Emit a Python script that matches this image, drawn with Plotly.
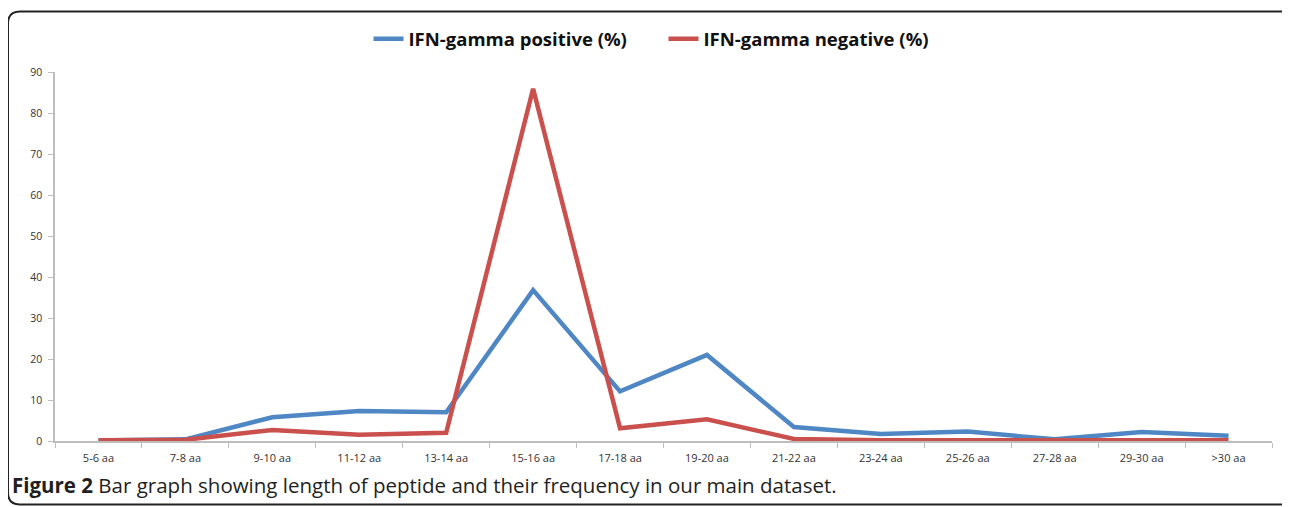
import plotly.graph_objects as go

categories = ["5-6 aa", "7-8 aa", "9-10 aa", "11-12 aa", "13-14 aa", "15-16 aa", "17-18 aa",
              "19-20 aa", "21-22 aa", "23-24 aa", "25-26 aa", "27-28 aa", "29-30 aa", ">30 aa"]
positive = [0.1, 0.4, 5.8, 7.3, 7.0, 36.8, 12.1, 21.0, 3.4, 1.7, 2.3, 0.4, 2.2, 1.3]
negative = [0.2, 0.3, 2.7, 1.5, 2.0, 85.9, 3.1, 5.3, 0.5, 0.2, 0.2, 0.2, 0.3, 0.2]
y_ticks = [0, 10, 20, 30, 40, 50, 60, 70, 80, 90]

OFF = 8  # page body margin
W, H = 1290 - OFF, 507 - OFF
# plot area in page pixels: x 55..1272, y 69..441
L, R, T, B = 55 - OFF, 1290 - 1272, 69 - OFF, 507 - 441
pw, ph = W - L - R, H - T - B

def px(x):
    return (x - OFF - L) / pw

def py(y):
    return (H - B - (y - OFF)) / ph

fig = go.Figure()
fig.add_trace(go.Scatter(x=categories, y=positive, mode="lines", name="IFN-gamma positive (%)",
                         line=dict(color="#4f87c4", width=4.5)))
fig.add_trace(go.Scatter(x=categories, y=negative, mode="lines", name="IFN-gamma negative (%)",
                         line=dict(color="#c9504d", width=4.5)))

# rounded frame
x0, x1 = px(8), px(1295)
y0, y1 = py(505), py(8)
rx, ry = 12 / pw, 12 / ph
path = (f"M {x0+rx} {y1} L {x1} {y1} L {x1} {y0} L {x0+rx} {y0} "
        f"Q {x0} {y0} {x0} {y0+ry} L {x0} {y1-ry} Q {x0} {y1} {x0+rx} {y1} Z")
fig.add_shape(type="path", path=path, xref="paper", yref="paper",
              line=dict(color="#222222", width=2), layer="below")

fig.add_annotation(x=px(10), y=py(485), xref="paper", yref="paper", xanchor="left", yanchor="middle",
                   showarrow=False,
                   text="<b>Figure 2</b> Bar graph showing length of peptide and their frequency in our main dataset.",
                   font=dict(family="Open Sans", size=20.5, color="#231f20"))

fig.update_layout(
    width=W, height=H,
    margin=dict(l=L, r=R, t=T, b=B),
    paper_bgcolor="white", plot_bgcolor="white",
    font=dict(family="Open Sans", color="#333333"),
    showlegend=True,
    legend=dict(orientation="h", x=0.5, xanchor="center", y=py(36), yanchor="middle",
                font=dict(family="Open Sans", size=18.5, color="#111111", weight="bold"),
                traceorder="normal", bgcolor="rgba(0,0,0,0)", entrywidth=250),
)
fig.update_xaxes(range=[-0.5, 13.5], showline=True, linecolor="#bdbdbd", linewidth=1.5,
                 ticks="outside", tickson="boundaries", ticklen=5, tickcolor="#bdbdbd",
                 ticklabelstandoff=6,
                 showgrid=False, tickfont=dict(size=11, color="#333333", family="Open Sans"))
fig.update_yaxes(range=[0, 90], tickvals=y_ticks, showline=True, linecolor="#bdbdbd", linewidth=1.5,
                 ticks="outside", ticklen=5, tickcolor="#bdbdbd", showgrid=False, zeroline=False,
                 ticklabelstandoff=4,
                 tickfont=dict(size=10.5, color="#333333", family="Open Sans"))

fig.write_html("out.html")
